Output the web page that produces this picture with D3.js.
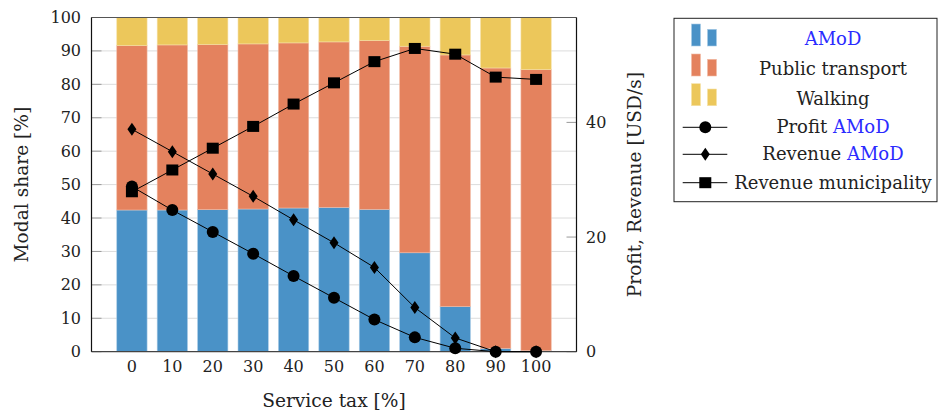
<!DOCTYPE html>
<html><head><meta charset="utf-8">
<script src="https://cdn.jsdelivr.net/npm/d3@7"></script>
<style>
body{margin:0;background:#fff;}
text{font-family:"DejaVu Serif",serif;fill:#222;}
</style></head>
<body><svg id="c" width="938" height="414"></svg>
<script>
const categories = [0,10,20,30,40,50,60,70,80,90,100];
const amodShare = [42.4,42.4,42.5,42.7,43.0,43.2,42.6,29.6,13.5,1.0,0.3];
const ptShare   = [49.2,49.4,49.4,49.4,49.4,49.5,50.5,61.8,75.3,83.9,84.1];
const walkShare = categories.map((c,i)=>+(100-amodShare[i]-ptShare[i]).toFixed(1));
const profitAMoD = [28.8,24.7,20.9,17.1,13.2,9.4,5.6,2.5,0.6,0,0];
const revenueAMoD = [38.8,34.9,31.0,27.1,23.0,19.0,14.7,7.7,2.4,0,0];
const revenueMun = [27.9,31.7,35.5,39.3,43.2,46.9,50.6,52.9,51.9,47.9,47.5];
const leftTicks = [0,10,20,30,40,50,60,70,80,90,100];
const rightTicks = [0,20,40];

const colors = {amod:"#4a92c7", pt:"#e4825e", walk:"#ecc75b"};
const strokes = {amod:"#a9cbe6", pt:"#f2bba5", walk:"#f6e1a7"};
const blueText = "#2b2bff";

const svg = d3.select("#c");
const L=91.5, R=576.5, T=17.5, B=351.7;
const x = d3.scaleLinear().domain([-10,110]).range([L,R]);
const yL = d3.scaleLinear().domain([0,100]).range([B,T]);
const yR = d3.scaleLinear().domain([0,58.3]).range([B,T]);
const bw = x(7.5)-x(0);

// grid
svg.append("g").selectAll("line").data(leftTicks.slice(1,-1)).join("line")
  .attr("x1",L).attr("x2",R).attr("y1",d=>yL(d)).attr("y2",d=>yL(d))
  .attr("stroke","#dcdcdc").attr("stroke-width",1);
// tick marks
const tg = svg.append("g").attr("stroke","#9a9a9a").attr("stroke-width",1);
leftTicks.forEach(d=>{
  tg.append("line").attr("x1",L).attr("x2",L+10).attr("y1",yL(d)).attr("y2",yL(d));
});
rightTicks.forEach(d=>{
  tg.append("line").attr("x1",R-10).attr("x2",R).attr("y1",yR(d)).attr("y2",yR(d));
});

// stacked bars
const rows = categories.map((c,i)=>({c, amod:amodShare[i], pt:ptShare[i], walk:walkShare[i]}));
const stack = d3.stack().keys(["amod","pt","walk"])(rows);
stack.forEach(s=>{
  svg.append("g").selectAll("rect").data(s).join("rect")
    .attr("x",d=>x(d.data.c)-bw/2).attr("width",bw)
    .attr("y",d=>yL(Math.min(d[1],100))).attr("height",d=>yL(d[0])-yL(Math.min(d[1],100)))
    .attr("fill",colors[s.key]).attr("stroke",strokes[s.key]).attr("stroke-width",0.6);
});

// axes box
svg.append("line").attr("x1",L).attr("x2",R).attr("y1",T).attr("y2",T).attr("stroke","#555").attr("stroke-width",1.2);
svg.append("line").attr("x1",L).attr("x2",R).attr("y1",B).attr("y2",B).attr("stroke","#444").attr("stroke-width",1.2);
svg.append("line").attr("x1",L).attr("x2",L).attr("y1",T).attr("y2",B).attr("stroke","#111").attr("stroke-width",1.2);
svg.append("line").attr("x1",R).attr("x2",R).attr("y1",T).attr("y2",B).attr("stroke","#111").attr("stroke-width",1.2);

// lines
const lineGen = sc => d3.line().x((d,i)=>x(categories[i])).y(d=>sc(d));
function series(vals, marker){
  svg.append("path").attr("d",lineGen(yR)(vals)).attr("fill","none").attr("stroke","#000").attr("stroke-width",1);
  const g = svg.append("g");
  vals.forEach((v,i)=>drawMarker(g, marker, x(categories[i]), yR(v)));
}
function drawMarker(g, m, cx, cy){
  if(m==="circle") g.append("circle").attr("cx",cx).attr("cy",cy).attr("r",6).attr("fill","#000");
  else if(m==="diamond") g.append("path").attr("d",`M${cx},${cy-6.5}L${cx+4.5},${cy}L${cx},${cy+6.5}L${cx-4.5},${cy}Z`).attr("fill","#000");
  else g.append("rect").attr("x",cx-6).attr("y",cy-5.5).attr("width",12).attr("height",11).attr("fill","#000");
}
series(revenueMun,"square");
series(revenueAMoD,"diamond");
series(profitAMoD,"circle");

// tick labels
svg.append("g").selectAll("text").data(leftTicks).join("text")
  .attr("x",81).attr("y",d=>yL(d)+5.5).attr("text-anchor","end").attr("font-size",16).text(d=>d);
svg.append("g").selectAll("text").data(rightTicks).join("text")
  .attr("x",586).attr("y",d=>yR(d)+5.5).attr("text-anchor","start").attr("font-size",16).text(d=>d);
svg.append("g").selectAll("text").data(categories).join("text")
  .attr("x",d=>x(d)).attr("y",372).attr("text-anchor","middle").attr("font-size",16).text(d=>d);

// axis titles
svg.append("text").attr("x",334).attr("y",407).attr("text-anchor","middle").attr("font-size",18.6).text("Service tax [%]");
svg.append("text").attr("transform",`translate(28,${(T+B)/2}) rotate(-90)`).attr("text-anchor","middle").attr("font-size",18.6).text("Modal share [%]");
svg.append("text").attr("transform",`translate(641,${(T+B)/2}) rotate(-90)`).attr("text-anchor","middle").attr("font-size",18.6).text("Profit, Revenue [USD/s]");

// legend
const lg = svg.append("g");
lg.append("rect").attr("x",674).attr("y",18.3).attr("width",263).attr("height",183.4).attr("fill","#fff").attr("stroke","#222").attr("stroke-width",1);
const legendItems = [
  {type:"bar", key:"amod", parts:[["AMoD",blueText]]},
  {type:"bar", key:"pt", parts:[["Public transport","#222"]]},
  {type:"bar", key:"walk", parts:[["Walking","#222"]]},
  {type:"line", m:"circle", parts:[["Profit ","#222"],["AMoD",blueText]]},
  {type:"line", m:"diamond", parts:[["Revenue ","#222"],["AMoD",blueText]]},
  {type:"line", m:"square", parts:[["Revenue municipality","#222"]]}
];
const rowY = [39.3,69.3,99,127.3,154.3,182.7];
legendItems.forEach((it,i)=>{
  const cy = rowY[i];
  if(it.type==="bar"){
    lg.append("rect").attr("x",691.5).attr("y",cy-15.3).attr("width",9).attr("height",22).attr("fill",colors[it.key]).attr("stroke",strokes[it.key]).attr("stroke-width",0.6);
    lg.append("rect").attr("x",707.5).attr("y",cy-10).attr("width",9).attr("height",16.7).attr("fill",colors[it.key]).attr("stroke",strokes[it.key]).attr("stroke-width",0.6);
  } else {
    lg.append("line").attr("x1",682.7).attr("x2",727.3).attr("y1",cy).attr("y2",cy).attr("stroke","#000").attr("stroke-width",1);
    drawMarker(lg, it.m, 705.3, cy);
  }
  const t = lg.append("text").attr("x",833).attr("y",cy+6).attr("text-anchor","middle").attr("font-size",18);
  it.parts.forEach(p=>t.append("tspan").style("fill",p[1]).text(p[0]));
});
</script></body></html>
